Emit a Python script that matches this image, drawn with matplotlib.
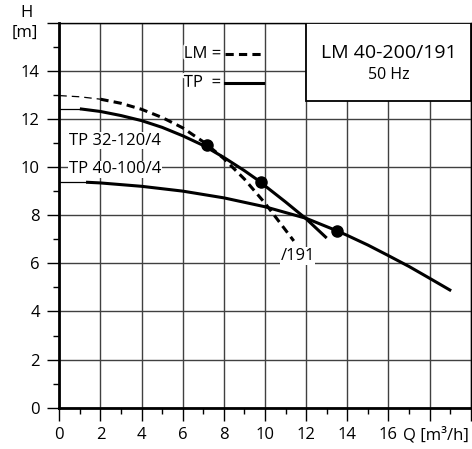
import matplotlib
matplotlib.use('Agg')
import matplotlib.pyplot as plt
import matplotlib.patheffects as pe
from matplotlib.patches import Rectangle
from matplotlib.ticker import MultipleLocator

plt.rcParams['font.family'] = ['Open Sans', 'DejaVu Sans']

# LM 40-200/191 curve (dashed)
lm_q = [0, 1, 2, 3, 4, 5, 6, 7, 7.2, 8, 9, 10, 11, 11.4]
lm_h = [12.97, 12.92, 12.82, 12.65, 12.4, 12.06, 11.63, 11.05, 10.92, 10.35, 9.5, 8.5, 7.38, 6.93]
lm_start = 2.3

# TP 32-120/4 curve (solid)
tp32_q = [0, 1, 2, 3, 4, 5, 6, 7, 8, 9, 9.8, 10, 11, 12, 13]
tp32_h = [12.42, 12.42, 12.31, 12.14, 11.93, 11.65, 11.3, 10.9, 10.4, 9.85, 9.37, 9.22, 8.55, 7.85, 7.05]
tp32_start = 1.0

# TP 40-100/4 curve (solid)
tp40_q = [0, 1.3, 2, 4, 6, 8, 10, 12, 13.5, 14, 15, 16, 17, 18, 19.05]
tp40_h = [9.37, 9.37, 9.34, 9.2, 9.0, 8.72, 8.35, 7.87, 7.35, 7.16, 6.76, 6.32, 5.87, 5.38, 4.86]
tp40_start = 1.3

# duty points
dot_q = [7.2, 9.8, 13.5]
dot_h = [10.92, 9.37, 7.35]

x_labels = ['0', '2', '4', '6', '8', '10', '12', '14', '16', '', '']
y_labels = ['0', '2', '4', '6', '8', '10', '12', '14', '']


def split(q, h, start):
    thin_q = [a for a in q if a <= start]
    thin_h = h[:len(thin_q)]
    thick_q = q[len(thin_q) - 1:]
    thick_h = h[len(thin_q) - 1:]
    return thin_q, thin_h, thick_q, thick_h


fig = plt.figure(figsize=(4.72, 4.49), dpi=100)
ax = fig.add_axes([0.1256, 0.092, 0.8716, 0.8575])
ax.set_xlim(0, 20)
ax.set_ylim(0, 16)

ax.set_xticks(range(0, 21, 2))
ax.set_xticklabels(x_labels)
ax.set_yticks(range(0, 17, 2))
ax.set_yticklabels(y_labels)
ax.xaxis.set_minor_locator(MultipleLocator(1))
ax.yaxis.set_minor_locator(MultipleLocator(1))
ax.tick_params(which='major', direction='out', length=9, width=1.0, labelsize=12, pad=5, color='black')
ax.tick_params(which='minor', direction='out', length=4.5, width=1.0, color='black')
ax.grid(True, which='major', color='#404040', linewidth=1.0, zorder=1)
ax.set_axisbelow(True)

for side in ['left', 'bottom']:
    ax.spines[side].set_linewidth(2)
for side in ['top', 'right']:
    ax.spines[side].set_linewidth(1.0)

dash = (0, (2.7, 1.7))

# curves: thin extrapolated part, then thick part
a, b, c, d = split(lm_q, lm_h, lm_start)
ax.plot(a, b, color='black', linewidth=0.9, linestyle=(0, (6, 4)), zorder=3)
ax.plot(c, d, color='black', linewidth=2.2, linestyle=dash, zorder=3)

for q, h, s in [(tp32_q, tp32_h, tp32_start), (tp40_q, tp40_h, tp40_start)]:
    a, b, c, d = split(q, h, s)
    ax.plot(a, b, color='black', linewidth=0.9, zorder=3)
    ax.plot(c, d, color='black', linewidth=2.2, solid_capstyle='butt', zorder=3)

ax.plot(dot_q, dot_h, 'o', color='black', markersize=8, zorder=4)

# curve labels
bg = dict(facecolor='white', edgecolor='none', pad=0.5)
ax.text(0.45, 11.1, 'TP 32-120/4', fontsize=12, va='center', ha='left', bbox=bg, zorder=2)
ax.text(0.45, 9.9, 'TP 40-100/4', fontsize=12, va='center', ha='left', bbox=bg, zorder=2)
ax.text(10.75, 6.3, '/191', fontsize=12, va='center', ha='left', bbox=bg, zorder=2)

# legend
stroke = [pe.withStroke(linewidth=3, foreground='white')]
ax.text(6.05, 14.7, 'LM =', fontsize=12, va='center', ha='left', path_effects=stroke, zorder=2)
ax.text(6.05, 13.5, 'TP  =', fontsize=12, va='center', ha='left', path_effects=stroke, zorder=2)
ax.plot([8.05, 9.9], [14.69, 14.69], color='black', linewidth=2.2, linestyle=dash, zorder=3)
ax.plot([8.05, 9.9], [13.51, 13.51], color='black', linewidth=2.2, zorder=3)

# title box
ax.add_patch(Rectangle((12, 12.75), 8, 3.25, facecolor='white', edgecolor='black', linewidth=1.3, zorder=5))
ax.text(16, 14.73, 'LM 40-200/191', fontsize=14, ha='center', va='center', zorder=6)
ax.text(16, 13.83, '50 Hz', fontsize=11.5, ha='center', va='center', zorder=6)

# axis labels
ax.annotate('Q [m³/h]', xy=(16.72, 0), xycoords=('data', 'axes fraction'),
            xytext=(0, -20), textcoords='offset points', fontsize=12, ha='left', va='center')
fig.text(27 / 472, 1 - 13 / 449, 'H', fontsize=12, ha='center', va='center')
fig.text(25 / 472, 1 - 33 / 449, '[m]', fontsize=12, ha='center', va='center')

fig.savefig('out.png', dpi=100)
